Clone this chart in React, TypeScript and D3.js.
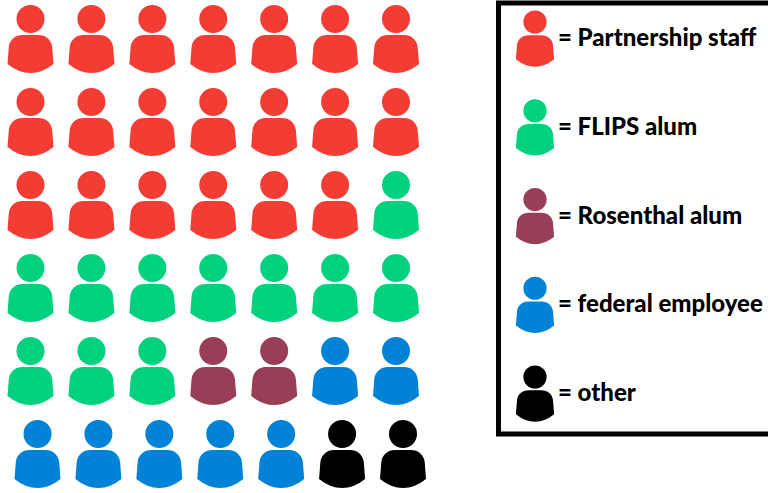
import { useRef, useEffect } from "react";
import * as d3 from "d3";

const categories = ["Partnership staff", "FLIPS alum", "Rosenthal alum", "federal employee", "other"];
const counts = [20, 11, 2, 7, 2];
const colors = ["#f33c34", "#00d17e", "#993e57", "#0083d7", "#000000"];
const perRow = 7;

// person icon, drawn around the middle of the head
function personPath() {
  const p = d3.path();
  p.moveTo(-23, 45);
  p.lineTo(-21.7, 28);
  p.bezierCurveTo(-20.8, 20.5, -15, 16, -8, 16);
  p.lineTo(8, 16);
  p.bezierCurveTo(15, 16, 20.8, 20.5, 21.7, 28);
  p.lineTo(23, 45);
  p.quadraticCurveTo(12, 54, 0, 54);
  p.quadraticCurveTo(-12, 54, -23, 45);
  p.closePath();
  p.moveTo(14, 0);
  p.arc(0, 0, 14, 0, Math.PI * 2);
  p.closePath();
  return p.toString();
}

export default function App() {
  const svgRef = useRef<SVGSVGElement>(null);

  useEffect(() => {
    const svg = d3.select(svgRef.current);
    svg.selectAll("*").remove();

    const people = categories.flatMap((c, i) => d3.range(counts[i]).map(() => c));
    const rows = Math.ceil(people.length / perRow);

    const color = d3.scaleOrdinal<string, string>().domain(categories).range(colors);
    const x = d3.scaleLinear().domain([0, perRow - 1]).range([30.5, 396]);
    const y = d3.scaleLinear().domain([0, rows - 1]).range([19, 434]);
    const icon = personPath();

    svg.append("g")
      .selectAll("path")
      .data(people)
      .join("path")
      .attr("d", icon)
      .attr("fill", (d) => color(d))
      .attr("transform", (d, i) => {
        const r = Math.floor(i / perRow);
        // the last row sits a little to the right
        const shift = r === rows - 1 ? 7 : 0;
        return `translate(${x(i % perRow) + shift},${y(r)})`;
      });

    // legend
    svg.append("rect")
      .attr("x", 498.5)
      .attr("y", 3)
      .attr("width", 290)
      .attr("height", 431)
      .attr("fill", "#fff")
      .attr("stroke", "#000")
      .attr("stroke-width", 5);

    const ly = d3.scalePoint().domain(categories).range([22, 377]);
    const items = svg.append("g")
      .selectAll("g")
      .data(categories)
      .join("g")
      .attr("transform", (d) => `translate(535,${ly(d)})`);

    items.append("path")
      .attr("d", icon)
      .attr("fill", (d) => color(d))
      .attr("transform", "scale(0.83)");

    items.append("text")
      .attr("x", 23)
      .attr("y", 24)
      .attr("font-family", "Lato, 'Open Sans', sans-serif")
      .attr("font-weight", 900)
      .attr("font-size", 24)
      .attr("fill", "#000")
      .text((d) => `= ${d}`);
  }, []);

  return (
    <svg
      ref={svgRef}
      width={768}
      height={493}
      viewBox="0 0 768 493"
      style={{ position: "absolute", left: 0, top: 0, background: "#fff" }}
    />
  );
}
